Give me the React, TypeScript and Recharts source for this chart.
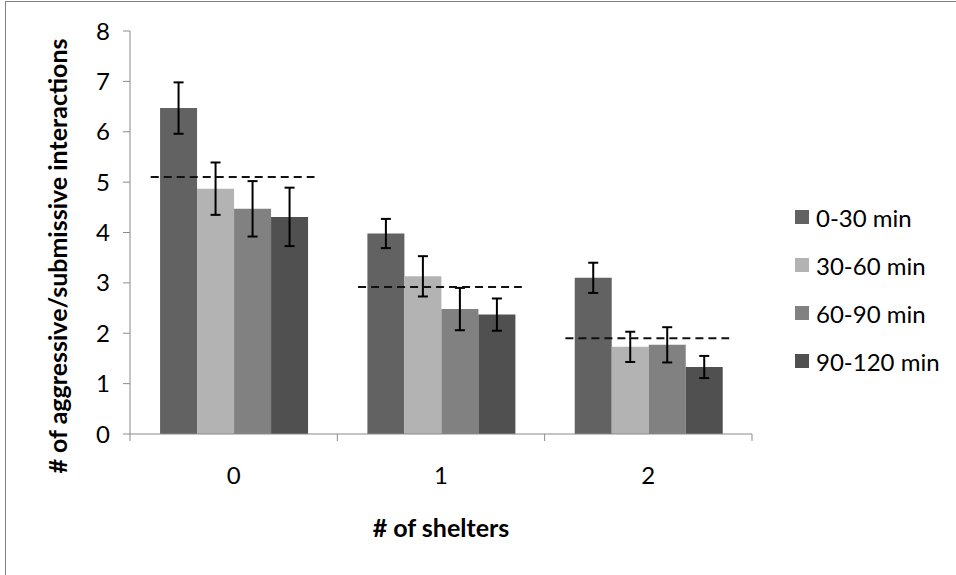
import { BarChart, Bar, XAxis, YAxis, ErrorBar, ReferenceLine } from 'recharts';

const shelters = ['0', '1', '2'];
const seriesNames = ['0-30 min', '30-60 min', '60-90 min', '90-120 min'];
const colors = ['#626262', '#b3b3b3', '#818181', '#505050'];

// mean interactions per time window
const min0to30 = [6.47, 3.98, 3.1];
const min30to60 = [4.87, 3.13, 1.73];
const min60to90 = [4.47, 2.48, 1.77];
const min90to120 = [4.31, 2.37, 1.33];

// standard errors
const err0to30 = [0.51, 0.29, 0.3];
const err30to60 = [0.52, 0.4, 0.3];
const err60to90 = [0.55, 0.42, 0.35];
const err90to120 = [0.58, 0.32, 0.22];

// overall mean per shelter count (dashed lines)
const overallMean = [5.1, 2.92, 1.9];

const yTicks = [0, 1, 2, 3, 4, 5, 6, 7, 8];

const W = 956;
const H = 575;
const PLOT_LEFT = 130;
const PLOT_RIGHT = 752;
const BAND = (PLOT_RIGHT - PLOT_LEFT) / shelters.length;
const TICK_SIZE = 7;
const TICK_MARGIN = 26;
const FONT = 'Lato, "Noto Sans", sans-serif';
const AXIS_GRAY = '#8a8a8a';

const values = [min0to30, min30to60, min60to90, min90to120];
const errors = [err0to30, err30to60, err60to90, err90to120];

const data = shelters.map((s, i) => {
  const row: Record<string, string | number> = { shelters: s };
  values.forEach((v, k) => {
    row[`s${k}`] = v[i];
    row[`e${k}`] = errors[k][i];
  });
  return row;
});

function ShelterTick(props: any) {
  const { x, y, payload, index } = props;
  const axisY = y - TICK_SIZE - TICK_MARGIN;
  const left = x - BAND / 2;
  return (
    <g>
      <line x1={left} x2={left} y1={axisY} y2={axisY + TICK_SIZE} stroke={AXIS_GRAY} />
      {index === shelters.length - 1 && (
        <line x1={x + BAND / 2} x2={x + BAND / 2} y1={axisY} y2={axisY + TICK_SIZE} stroke={AXIS_GRAY} />
      )}
      <text x={x} y={y + 17} textAnchor="middle" fill="#000" fontSize={24} fontFamily={FONT}>
        {payload.value}
      </text>
    </g>
  );
}

// dashed mean line spanning most of the category band
function MeanLine(props: any) {
  const { x1, y1 } = props;
  return (
    <line
      x1={x1 - BAND * 0.4}
      x2={x1 + BAND * 0.39}
      y1={y1}
      y2={y1}
      stroke="#111"
      strokeWidth={2}
      strokeDasharray="8 5"
    />
  );
}

function YTitle() {
  return (
    <text
      x={57}
      y={256}
      transform="rotate(-90, 57, 256)"
      textAnchor="middle"
      dominantBaseline="central"
      fontSize={25}
      fontWeight="bold"
      fontFamily={FONT}
      fill="#000"
    >
      # of aggressive/submissive interactions
    </text>
  );
}

function XTitle() {
  return (
    <text x={441} y={537} textAnchor="middle" fontSize={25} fontWeight="bold" fontFamily={FONT} fill="#000">
      # of shelters
    </text>
  );
}

export default function App() {
  return (
    <div style={{ position: 'relative', width: W, height: H, background: '#fff' }}>
      <style>{'body{margin:0}'}</style>
      <div
        style={{
          position: 'absolute',
          left: 5,
          top: 1,
          right: 0,
          bottom: 0,
          borderLeft: '1px solid #808080',
          borderTop: '1px solid #808080',
        }}
      />
      <div style={{ position: 'absolute', left: 0, top: 0 }}>
        <BarChart
          width={W}
          height={H}
          data={data}
          margin={{ top: 31, right: W - PLOT_RIGHT, left: 0, bottom: 21 }}
          barCategoryGap="14.5%"
          barGap={0}
        >
          <XAxis
            dataKey="shelters"
            height={120}
            stroke={AXIS_GRAY}
            tickLine={false}
            tickSize={TICK_SIZE}
            tickMargin={TICK_MARGIN}
            tick={<ShelterTick />}
            label={<XTitle />}
          />
          <YAxis
            width={PLOT_LEFT}
            domain={[0, 8]}
            ticks={yTicks}
            interval={0}
            stroke={AXIS_GRAY}
            tickSize={TICK_SIZE}
            tickMargin={13}
            tick={{ fill: '#000', fontSize: 24, fontFamily: FONT }}
            label={<YTitle />}
          />
          {seriesNames.map((name, k) => (
            <Bar key={name} dataKey={`s${k}`} name={name} fill={colors[k]} isAnimationActive={false}>
              <ErrorBar dataKey={`e${k}`} width={5} strokeWidth={2} stroke="#000" />
            </Bar>
          ))}
          {overallMean.map((m, i) => (
            <ReferenceLine
              key={i}
              segment={[
                { x: shelters[i], y: m },
                { x: shelters[i], y: m },
              ]}
              shape={<MeanLine />}
            />
          ))}
        </BarChart>
      </div>
      <div style={{ position: 'absolute', left: 795, top: 193, fontFamily: FONT, fontSize: 24, color: '#000' }}>
        {seriesNames.map((name, k) => (
          <div key={name} style={{ height: 48, display: 'flex', alignItems: 'center' }}>
            <span style={{ width: 14, height: 14, background: colors[k], marginRight: 7, display: 'inline-block' }} />
            <span>{name}</span>
          </div>
        ))}
      </div>
    </div>
  );
}
